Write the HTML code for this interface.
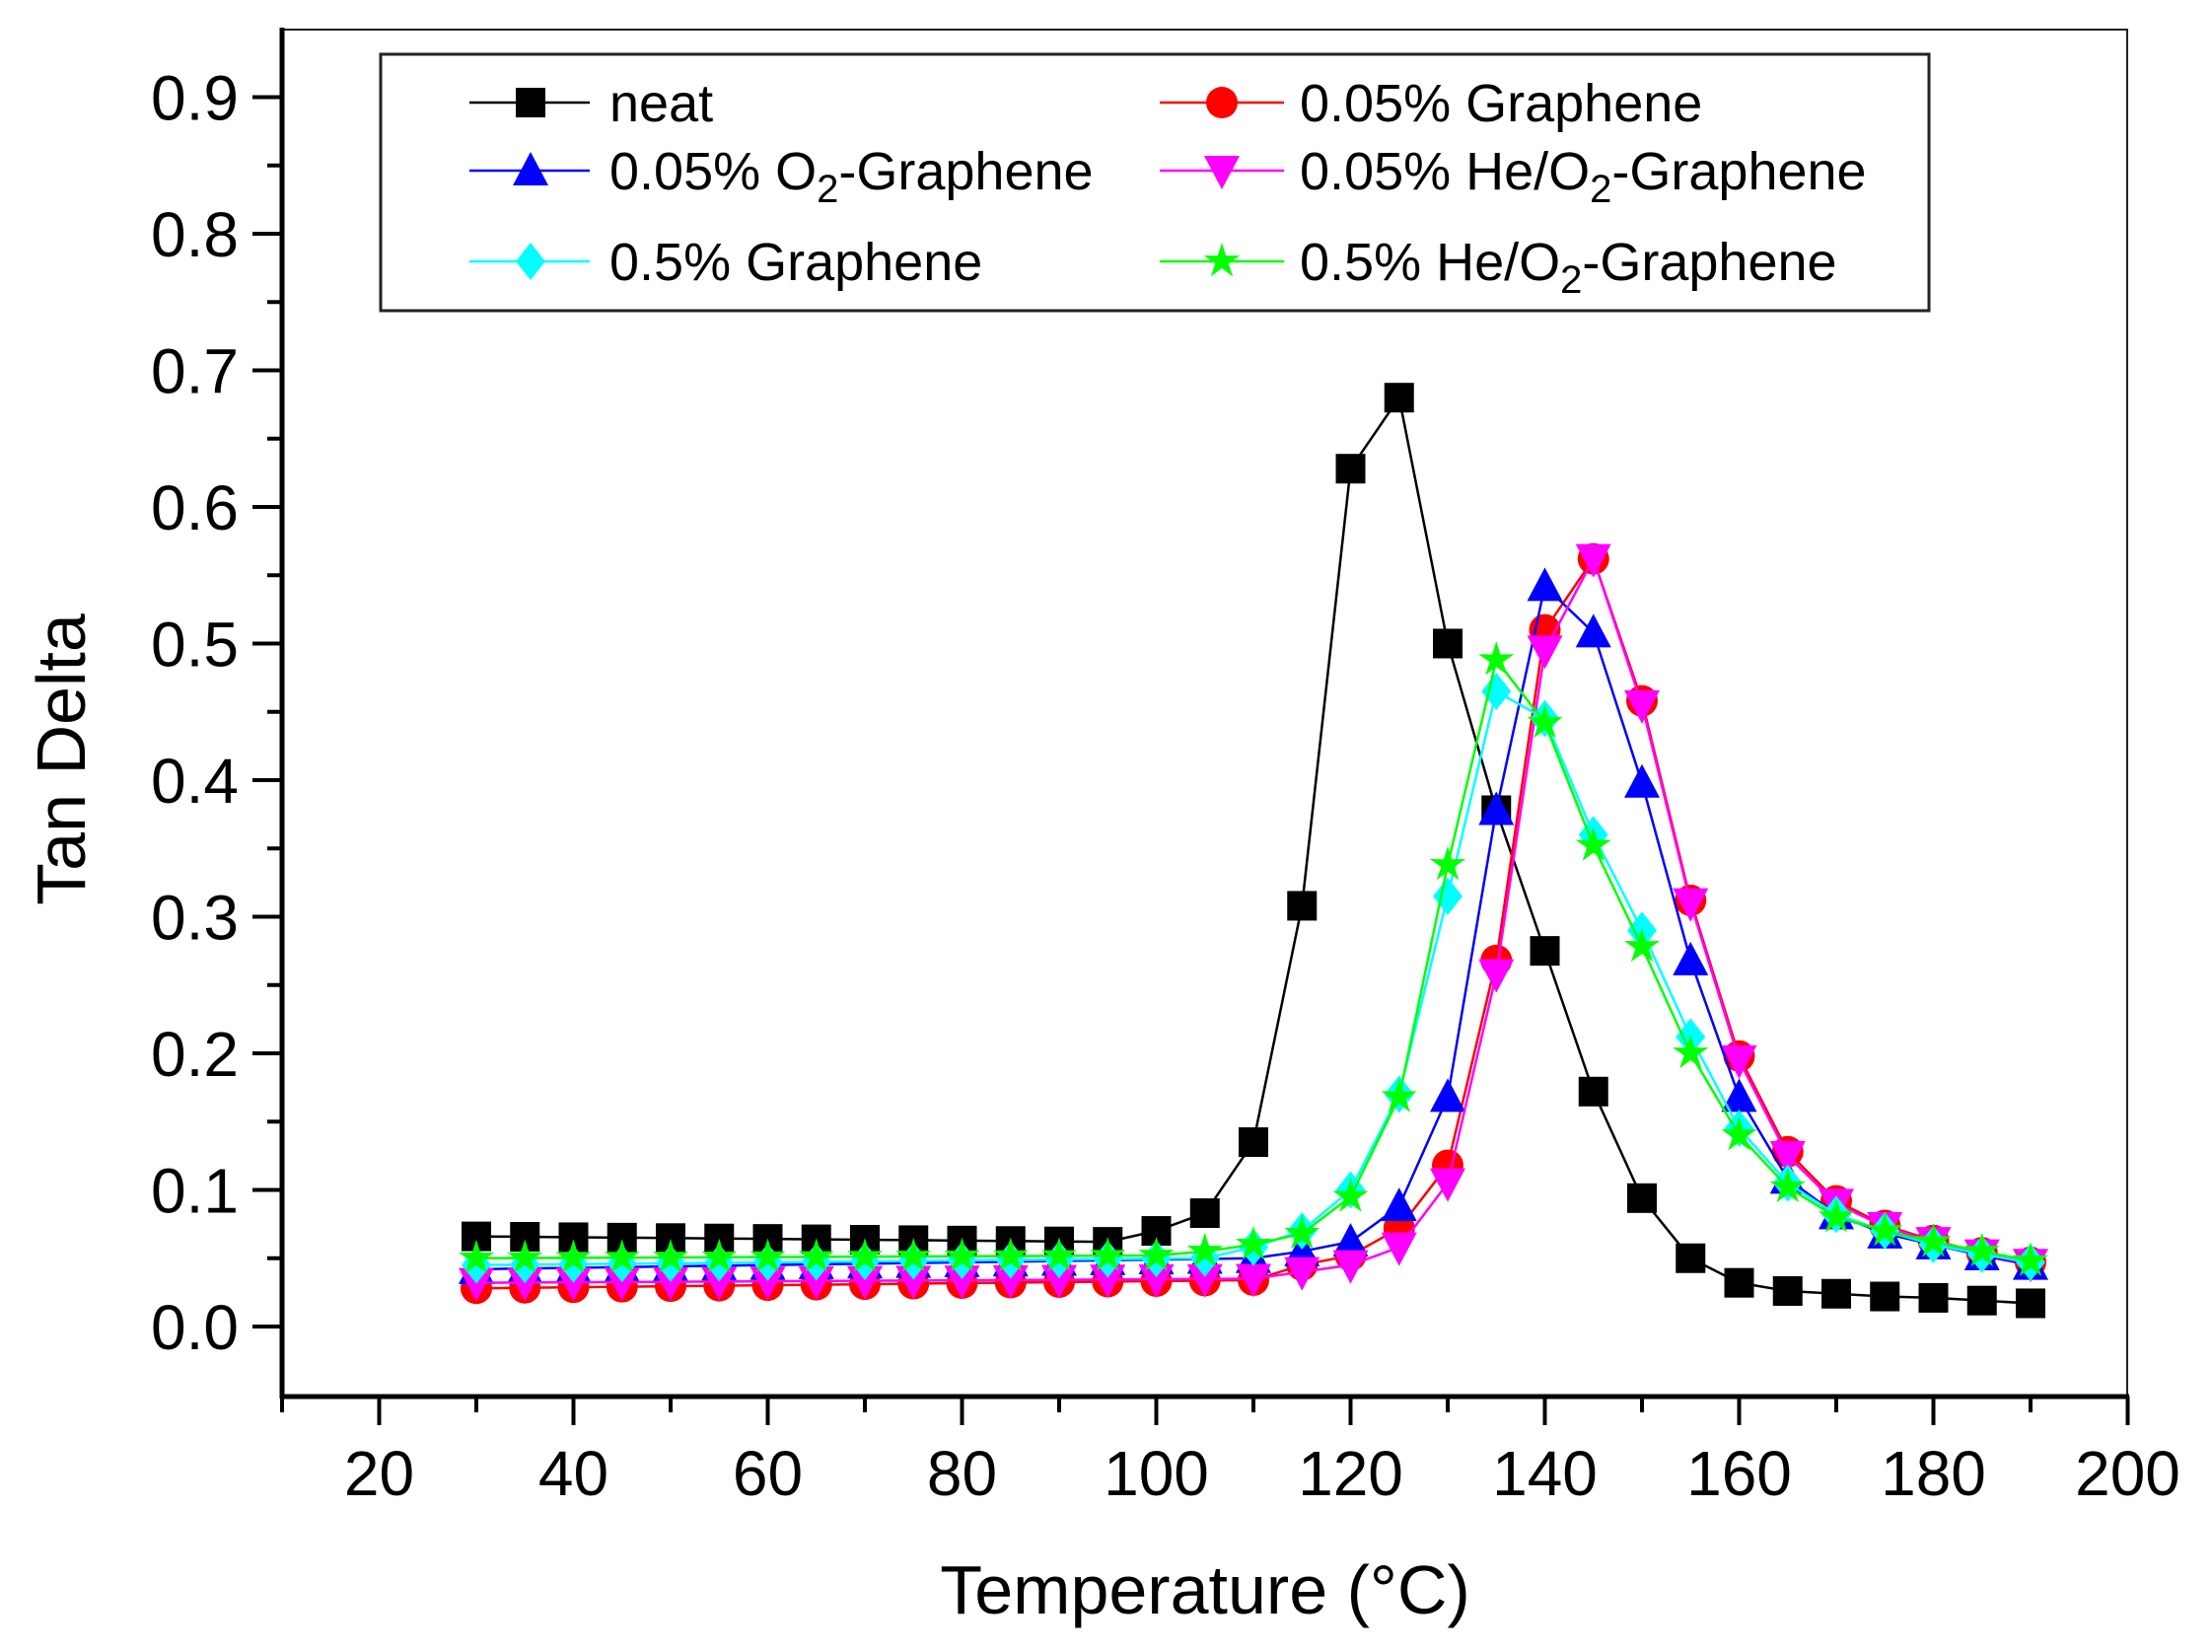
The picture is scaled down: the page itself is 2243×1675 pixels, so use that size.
<!DOCTYPE html>
<html><head><meta charset="utf-8"><style>
html,body{margin:0;padding:0;background:#fff;}
svg{display:block;font-family:"Liberation Sans",Arial,sans-serif;}
</style></head><body>
<svg id="c" width="2243" height="1675" viewBox="0 0 2243 1675" xmlns="http://www.w3.org/2000/svg">
<rect width="2243" height="1675" fill="#fff"/>
<g id="plot"></g>
<rect x="286" y="30" width="1871" height="1386" fill="none" stroke="#222" stroke-width="2"/>
<line x1="286" y1="28" x2="286" y2="1418" stroke="#000" stroke-width="5"/>
<line x1="284" y1="1416" x2="2159" y2="1416" stroke="#000" stroke-width="5"/>
<g id="ticks" stroke="#000" stroke-width="4"></g>
<g id="labels" font-size="64" fill="#000"></g>
<text x="1222" y="1636" font-size="70" text-anchor="middle">Temperature (°C)</text>
<text transform="translate(86,770) rotate(-90)" font-size="70" text-anchor="middle">Tan Delta</text>
<rect x="386" y="55" width="1570" height="260" fill="#fff" stroke="#222" stroke-width="3"/>
<g id="legend" font-size="54"></g>
</svg>
<script>
const NS="http://www.w3.org/2000/svg";
function X(v){return 286+(v-10)*9.85;}
function Y(v){return 1345-v*1385;}
function el(t,a,p){const e=document.createElementNS(NS,t);for(const k in a)e.setAttribute(k,a[k]);p.appendChild(e);return e;}
const ticks=document.getElementById('ticks'),labels=document.getElementById('labels');
for(let v=10;v<=200;v+=10){const maj=(v%20===0);el('line',{x1:X(v),x2:X(v),y1:1416,y2:1416+(maj?29:16)},ticks);
 if(maj&&v>=20){const t=el('text',{x:X(v),y:1516,'text-anchor':'middle'},labels);t.textContent=v;}}
for(let i=0;i<=18;i++){const v=i*0.05;const maj=(i%2===0);el('line',{x1:286-(maj?30:15),x2:286,y1:Y(v),y2:Y(v)},ticks);
 if(maj){const t=el('text',{x:242,y:Y(v)+23,'text-anchor':'end'},labels);t.textContent=(v).toFixed(1);}}
const xs=[];for(let x=30;x<=190;x+=5)xs.push(x);
function base(a,b,n){const r=[];for(let i=0;i<n;i++)r.push(a+(b-a)*i/(n-1));return r;}
const S=[
{c:'#000',m:'sq',d:base(0.066,0.062,14).concat([0.07,0.083,0.135,0.308,0.628,0.68,0.50,0.378,0.275,0.172,0.094,0.05,0.032,0.026,0.024,0.022,0.021,0.019,0.017])},
{c:'#ff0000',m:'ci',d:base(0.028,0.034,17).concat([0.045,0.052,0.072,0.118,0.268,0.51,0.562,0.458,0.312,0.198,0.128,0.092,0.074,0.063,0.054,0.047])},
{c:'#0000ff',m:'up',d:base(0.042,0.05,17).concat([0.055,0.062,0.088,0.168,0.378,0.542,0.508,0.398,0.268,0.168,0.108,0.082,0.068,0.06,0.052,0.045])},
{c:'#ff00ff',m:'dn',d:base(0.032,0.035,17).concat([0.04,0.045,0.058,0.105,0.258,0.495,0.562,0.455,0.31,0.195,0.125,0.09,0.073,0.062,0.053,0.046])},
{c:'#00ffff',m:'di',d:base(0.045,0.05,16).concat([0.058,0.07,0.1,0.17,0.315,0.465,0.445,0.36,0.29,0.212,0.145,0.105,0.082,0.07,0.06,0.053,0.047])},
{c:'#00ff00',m:'st',d:base(0.05,0.052,15).concat([0.055,0.06,0.068,0.095,0.168,0.338,0.488,0.442,0.352,0.278,0.2,0.14,0.102,0.08,0.07,0.062,0.055,0.048])}
];
function marker(m,x,y,c,p){
 const s=15;
 if(m==='sq')el('rect',{x:x-s,y:y-s,width:2*s,height:2*s,fill:c},p);
 else if(m==='ci')el('circle',{cx:x,cy:y,r:s+1,fill:c},p);
 else if(m==='up')el('polygon',{points:`${x},${y-s-4} ${x+s+3},${y+s} ${x-s-3},${y+s}`,fill:c},p);
 else if(m==='dn')el('polygon',{points:`${x},${y+s+4} ${x+s+3},${y-s} ${x-s-3},${y-s}`,fill:c},p);
 else if(m==='di')el('polygon',{points:`${x},${y-s-4} ${x+s},${y} ${x},${y+s+4} ${x-s},${y}`,fill:c},p);
 else if(m==='st'){let pts=[];for(let i=0;i<10;i++){const r=i%2?7:s+4;const a=-Math.PI/2+i*Math.PI/5;pts.push((x+r*Math.cos(a)).toFixed(1)+','+(y+r*Math.sin(a)).toFixed(1));}el('polygon',{points:pts.join(' '),fill:c},p);}
}
const plot=document.getElementById('plot');
S.forEach(s=>{
 el('polyline',{points:xs.map((x,i)=>X(x)+','+Y(s.d[i])).join(' '),fill:'none',stroke:s.c,'stroke-width':2.5},plot);
 xs.forEach((x,i)=>marker(s.m,X(x),Y(s.d[i]),s.c,plot));
});
const lg=document.getElementById('legend');
const sub='<tspan font-size="40" dy="13">2</tspan><tspan dy="-13">-Graphene</tspan>';
const L=[
[0,104,'neat',0],[1,104,'0.05% Graphene',1],
[0,173,'0.05% O'+sub,2],[1,173,'0.05% He/O'+sub,3],
[0,265,'0.5% Graphene',4],[1,265,'0.5% He/O'+sub,5]];
L.forEach(([col,y,txt,si])=>{
 const x1=col?1176:476,x2=col?1302:598,mx=col?1239:538,tx=col?1318:618;
 el('line',{x1:x1,x2:x2,y1:y,y2:y,stroke:S[si].c,'stroke-width':2.5},lg);
 marker(S[si].m,mx,y,S[si].c,lg);
 const t=el('text',{x:tx,y:y+19},lg);t.innerHTML=txt;
});
</script>
</body></html>
